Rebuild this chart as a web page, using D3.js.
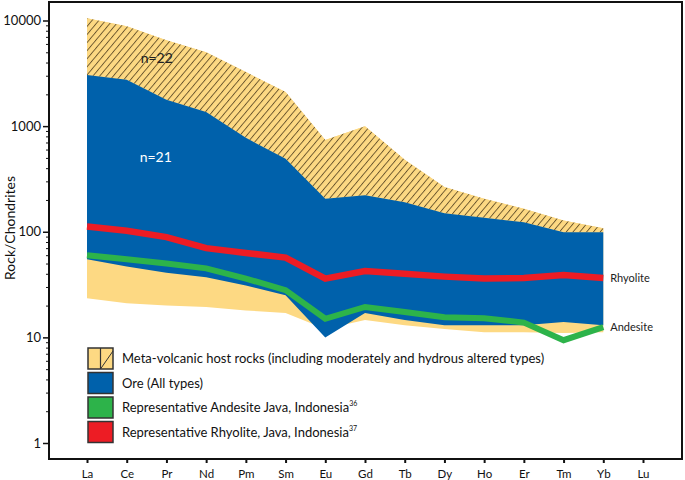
<!DOCTYPE html>
<html><head><meta charset="utf-8">
<script src="https://cdn.jsdelivr.net/npm/d3@7"></script>
<style>
html,body{margin:0;padding:0;background:#fff;}
svg{display:block;font-family:Lato,"Open Sans",sans-serif;}
</style></head>
<body><svg id="c" width="685" height="480"></svg>
<script>
const elements = ["La","Ce","Pr","Nd","Pm","Sm","Eu","Gd","Tb","Dy","Ho","Er","Tm","Yb","Lu"];
const dataElements = ["La","Ce","Pr","Nd","Pm","Sm","Eu","Gd","Tb","Dy","Ho","Er","Tm","Yb"];
const hostMax = [10500, 8800, 6500, 5000, 3250, 2100, 740, 1000, 480, 265, 205, 165, 128, 108];
const hostMin = [23.5, 21, 20, 19.4, 18, 17, 12, 14.6, 13, 12, 11.2, 11.2, 11, 11.2];
const oreMax = [3050, 2750, 1780, 1360, 775, 490, 205, 222, 190, 150, 136, 123, 99, 99];
const oreMin = [55, 47, 41, 37, 31, 25, 10, 17, 14.6, 13, 13, 13, 14, 13];
const andesite = [60, 55, 50, 45, 36, 28, 15, 19.4, 17.4, 15.5, 15.2, 13.8, 9.4, 12.5];
const rhyolite = [112, 102, 89, 70, 63, 57, 36, 42.5, 40, 37.6, 36, 36.5, 39, 36.5];
const yTicks = [1, 10, 100, 1000, 10000];
const legendLabels = [
  "Meta-volcanic host rocks (including moderately and hydrous altered types)",
  "Ore (All types)",
  "Representative Andesite Java, Indonesia",
  "Representative Rhyolite, Java, Indonesia"
];
const legendSup = ["", "", "36", "37"];

const YELLOW = "#FDD983", BLUE = "#0061AB", RED = "#ED1C24", GREEN = "#2DB34A";

const svg = d3.select("#c");
const frame = {l: 49, t: 2, r: 682, b: 459};
const x = d3.scalePoint().domain(elements).range([87, 643]);
const y = d3.scaleLog().domain([1, 10000]).range([443, 20.5]);

const defs = svg.append("defs");
const pat = defs.append("pattern").attr("id", "hatch").attr("patternUnits", "userSpaceOnUse")
  .attr("width", 5.2).attr("height", 10).attr("patternTransform", "rotate(40)");
pat.append("rect").attr("width", 5.2).attr("height", 10).attr("fill", YELLOW);
pat.append("line").attr("x1", 0.5).attr("y1", 0).attr("x2", 0.5).attr("y2", 10)
  .attr("stroke", "#3b2a12").attr("stroke-width", 0.75);

const rows = dataElements.map((e, i) => ({e, hMax: hostMax[i], hMin: hostMin[i], oMax: oreMax[i], oMin: oreMin[i], and: andesite[i], rhy: rhyolite[i]}));

const g = svg.append("g");
g.append("path").datum(rows).attr("fill", YELLOW)
  .attr("d", d3.area().x(d => x(d.e)).y0(d => y(d.hMin)).y1(d => y(d.hMax)));
g.append("path").datum(rows).attr("fill", "url(#hatch)")
  .attr("d", d3.area().x(d => x(d.e)).y0(d => y(d.oMax)).y1(d => y(d.hMax)));
g.append("path").datum(rows).attr("fill", BLUE)
  .attr("d", d3.area().x(d => x(d.e)).y0(d => y(d.oMin)).y1(d => y(d.oMax)));
g.append("path").datum(rows).attr("fill", "none").attr("stroke", RED).attr("stroke-width", 6.5)
  .attr("d", d3.line().x(d => x(d.e)).y(d => y(d.rhy)));
g.append("path").datum(rows).attr("fill", "none").attr("stroke", GREEN).attr("stroke-width", 6)
  .attr("d", d3.line().x(d => x(d.e)).y(d => y(d.and)));

svg.append("text").attr("x", x("Ce") + 30).attr("y", 63).attr("text-anchor", "middle")
  .attr("font-size", 14).attr("fill", "#222").text("n=22");
svg.append("text").attr("x", x("Ce") + 29).attr("y", 162).attr("text-anchor", "middle")
  .attr("font-size", 14).attr("fill", "#fff").text("n=21");

const last = rows[rows.length - 1];
svg.append("text").attr("x", x("Yb") + 7).attr("y", y(last.rhy) + 4).attr("font-size", 11).attr("fill", "#222").text("Rhyolite");
svg.append("text").attr("x", x("Yb") + 7).attr("y", y(last.and) + 4).attr("font-size", 11).attr("fill", "#222").text("Andesite");

svg.append("rect").attr("x", frame.l).attr("y", frame.t).attr("width", frame.r - frame.l).attr("height", frame.b - frame.t)
  .attr("fill", "none").attr("stroke", "#111").attr("stroke-width", 2);

const minor = [];
for (let d = 1; d < 10000; d *= 10) for (let k = 2; k <= 9; k++) minor.push(d * k);
const ya = svg.append("g").attr("transform", `translate(${frame.l},0)`)
  .call(d3.axisLeft(y).tickValues(minor).tickSize(3).tickFormat(""));
ya.select(".domain").remove();
ya.selectAll("line").attr("stroke", "#111").attr("stroke-width", 1);
const yb = svg.append("g").attr("transform", `translate(${frame.l},0)`)
  .call(d3.axisLeft(y).tickValues(yTicks).tickSize(6).tickPadding(2).tickFormat(d3.format("d")));
yb.select(".domain").remove();
yb.selectAll("line").attr("stroke", "#111").attr("stroke-width", 1.5);
yb.selectAll("text").attr("font-size", 13).attr("fill", "#111").attr("font-family", "Lato, sans-serif");

const xa = svg.append("g").attr("transform", `translate(0,${frame.b})`)
  .call(d3.axisBottom(x).tickSize(4).tickPadding(7));
xa.select(".domain").remove();
xa.selectAll("line").attr("stroke", "#111").attr("stroke-width", 2);
xa.selectAll("text").attr("font-size", 11.5).attr("fill", "#111").attr("font-family", "Lato, sans-serif");

svg.append("text").attr("transform", "translate(15,228) rotate(-90)").attr("text-anchor", "middle")
  .attr("font-size", 14).attr("fill", "#111").text("Rock/Chondrites");

const lg = svg.append("g");
const fills = [null, BLUE, GREEN, RED];
legendLabels.forEach((lab, i) => {
  const by = 348 + i * 24.5;
  if (i === 0) {
    lg.append("rect").attr("x", 88).attr("y", by).attr("width", 25).attr("height", 21).attr("fill", YELLOW);
    lg.append("line").attr("x1", 100.5).attr("y1", by).attr("x2", 100.5).attr("y2", by + 21).attr("stroke", "#333").attr("stroke-width", 1.2);
    lg.append("line").attr("x1", 100.5).attr("y1", by + 21).attr("x2", 113).attr("y2", by + 3).attr("stroke", "#333").attr("stroke-width", 1);
    lg.append("rect").attr("x", 88).attr("y", by).attr("width", 25).attr("height", 21).attr("fill", "none").attr("stroke", "#333").attr("stroke-width", 1.5);
  } else {
    lg.append("rect").attr("x", 88).attr("y", by).attr("width", 25).attr("height", 21).attr("fill", fills[i]).attr("stroke", "#333").attr("stroke-width", 1.5);
  }
  const t = lg.append("text").attr("x", 122).attr("y", by + 15).attr("font-size", 13).attr("fill", "#111").text(lab);
  if (legendSup[i]) t.append("tspan").attr("font-size", 7).attr("dy", -6).text(legendSup[i]);
});
</script></body></html>
